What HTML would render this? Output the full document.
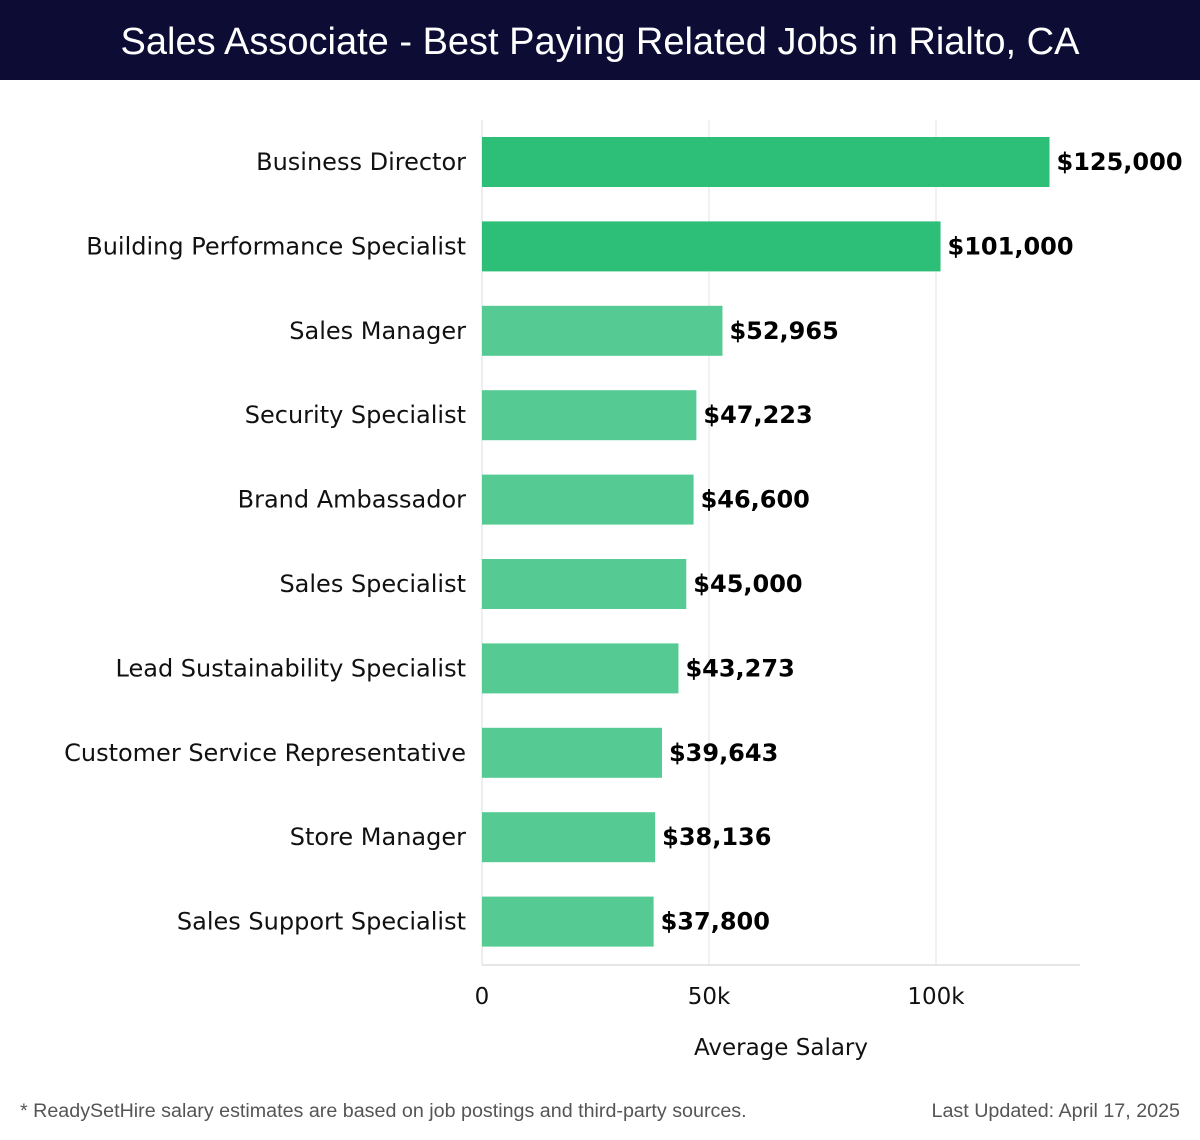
<!DOCTYPE html>
<html><head><meta charset="utf-8"><style>
body{margin:0;width:1200px;height:1140px;background:#fff;font-family:"Liberation Sans",sans-serif;overflow:hidden}
#title{position:absolute;left:0;top:0;width:1200px;height:80px;background:#0c0c35;color:#fff;font-size:38px;line-height:84px;text-align:center}
.foot{position:absolute;top:1100px;font-size:19.7px;color:#555}
svg text{font-family:"DejaVu Sans",sans-serif}
</style></head><body>
<div id="title">Sales Associate - Best Paying Related Jobs in Rialto, CA</div>
<svg id="chart" width="1200" height="1140" style="position:absolute;left:0;top:0"></svg>
<div class="foot" style="left:20px">* ReadySetHire salary estimates are based on job postings and third-party sources.</div>
<div class="foot" style="right:20px">Last Updated: April 17, 2025</div>
<script>
const categories=["Business Director","Building Performance Specialist","Sales Manager","Security Specialist","Brand Ambassador","Sales Specialist","Lead Sustainability Specialist","Customer Service Representative","Store Manager","Sales Support Specialist"];
const salaries=[125000,101000,52965,47223,46600,45000,43273,39643,38136,37800];
const valueLabels=["$125,000","$101,000","$52,965","$47,223","$46,600","$45,000","$43,273","$39,643","$38,136","$37,800"];
const tickValues=[0,50000,100000];
const tickLabels=["0","50k","100k"];
const svg=document.getElementById('chart');
const NS="http://www.w3.org/2000/svg";
const x0=482,xScale=(936-482)/100000;
const x=v=>x0+v*xScale;
const top0=120,step=84.4,bh=50;
const yc=i=>162+i*step;
function mk(t,a){const e=document.createElementNS(NS,t);for(const k in a)e.setAttribute(k,a[k]);svg.appendChild(e);return e;}
tickValues.forEach((v,i)=>{
 if(v>0){const g=mk('line',{x1:x(v),x2:x(v),y1:top0,y2:965,stroke:'#e3e3e3','stroke-width':1});
 
 }
 const t=mk('text',{x:x(v),y:1004,'font-size':23,'text-anchor':'middle',fill:'#111'});t.textContent=tickLabels[i];
 
 
});
const yl=mk('line',{x1:x0,x2:x0,y1:top0,y2:965,stroke:'#ddd'});


const xl=mk('line',{x1:x0,x2:1080,y1:965,y2:965,stroke:'#ccc'});


const xt=mk('text',{x:781,y:1055,'font-size':23,'text-anchor':'middle',fill:'#111'});xt.textContent="Average Salary";


categories.forEach((c,i)=>{
 const r=mk('rect',{x:x0,y:yc(i)-bh/2,width:x(salaries[i])-x0,height:bh,fill:i<2?'#2dbf78':'#55cb93'});
 
 
 const l=mk('text',{x:466,y:yc(i)+8,'font-size':24,'text-anchor':'end',fill:'#111'});l.textContent=c;
 
 
 const v=mk('text',{x:x(salaries[i])+7,y:yc(i)+8,'font-size':24,'font-weight':'bold',fill:'#000'});v.textContent=valueLabels[i];
 
 
});
</script>
</body></html>
